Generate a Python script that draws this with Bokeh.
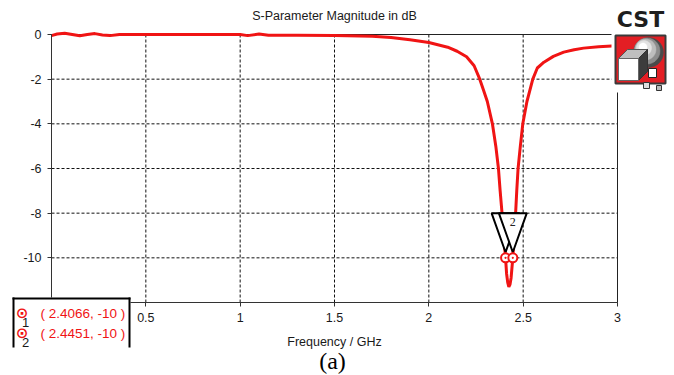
from bokeh.plotting import figure
from bokeh.models import BoxAnnotation, PolyAnnotation, Label, FixedTicker, Range1d
from bokeh.embed import file_html
from bokeh.resources import INLINE
import math

# ---- data ----
freq = [0.00, 0.03, 0.07, 0.11, 0.15, 0.19, 0.23, 0.27, 0.31, 0.36, 0.60, 1.00, 1.04, 1.10,
        1.15, 1.30, 1.50, 1.70, 1.80, 1.90, 2.00, 2.10, 2.15, 2.20, 2.24, 2.27, 2.29, 2.31,
        2.337, 2.355, 2.369, 2.378, 2.388, 2.397, 2.4066, 2.412, 2.418, 2.424, 2.430, 2.436,
        2.4451, 2.452, 2.460, 2.466, 2.473, 2.485, 2.498, 2.520, 2.551, 2.575, 2.610, 2.660,
        2.715, 2.770, 2.820, 2.900, 2.970, 3.000]
s11 = [-0.05, 0.02, 0.06, 0.00, -0.06, 0.00, 0.04, -0.02, -0.05, 0.00, 0.00, 0.00, -0.05, 0.02,
       -0.03, -0.03, -0.04, -0.08, -0.13, -0.24, -0.36, -0.57, -0.75, -1.00, -1.40, -2.00, -2.50, -3.00,
       -4.00, -5.00, -6.00, -7.00, -8.00, -9.00, -10.00, -10.70, -11.10, -11.30, -11.20, -10.90,
       -10.00, -9.00, -8.00, -7.00, -6.00, -5.00, -4.00, -3.00, -2.00, -1.50, -1.24, -0.98,
       -0.79, -0.68, -0.61, -0.55, -0.51, -0.50]
marker_x = [2.4066, 2.4451]
marker_y = [-10.0, -10.0]
marker_ids = ["1", "2"]
x_ticks = [0, 0.5, 1, 1.5, 2, 2.5, 3]
y_ticks = [-12, -10, -8, -6, -4, -2, 0]
x_lo, x_hi = 0.0, 3.0
y_lo, y_hi = -12.0, 0.0

FONT = "Liberation Sans"
RED = "#f01414"
W, H = 674, 375
# where the plotting area sits on the canvas (pixels)
PL, PR, PT, PB = 51.0, 617.0, 34.0, 302.0
sx = (PR - PL) / (x_hi - x_lo)
sy = (PB - PT) / (y_hi - y_lo)

# the frame spans the whole canvas so that decorations outside the plot area are not clipped
p = figure(width=W, height=H,
           x_range=Range1d(x_lo - PL / sx, x_hi + (W - PR) / sx),
           y_range=Range1d(y_lo - (H - PB) / sy, y_hi + PT / sy),
           output_backend="svg", toolbar_location=None, title=None,
           min_border_left=0, min_border_right=0, min_border_top=0, min_border_bottom=0)
p.background_fill_color = "white"
p.border_fill_color = "white"
p.outline_line_color = None
p.grid.visible = False

p.xaxis.fixed_location = y_lo
p.yaxis.fixed_location = x_lo
p.xaxis.bounds = (x_lo, x_hi)
p.yaxis.bounds = (y_lo, y_hi)
for ax in (p.xaxis[0], p.yaxis[0]):
    ax.axis_line_color = "#333333"
    ax.major_tick_line_color = "#333333"
    ax.minor_tick_line_color = None
    ax.major_tick_in = 0
    ax.major_tick_out = 4
    ax.major_label_text_font = FONT
    ax.major_label_text_font_size = "12.5px"
    ax.major_label_text_color = "#1a1a1a"
    ax.major_label_standoff = 6
p.xaxis.ticker = FixedTicker(ticks=x_ticks)
p.yaxis.ticker = FixedTicker(ticks=y_ticks)
p.xaxis.major_label_overrides = {t: ("%g" % t) for t in x_ticks}
p.yaxis.major_label_overrides = {t: ("%g" % t) for t in y_ticks}

# dashed grid inside the plotting area
gx = [t for t in x_ticks if x_lo < t < x_hi]
gy = [t for t in y_ticks if y_lo < t < y_hi]
p.segment(x0=gx, y0=[y_lo] * len(gx), x1=gx, y1=[y_hi] * len(gx),
          line_color="#111111", line_dash="3 2", line_width=1)
p.segment(x0=[x_lo] * len(gy), y0=gy, x1=[x_hi] * len(gy), y1=gy,
          line_color="#111111", line_dash="3 2", line_width=1)
p.quad(left=[x_lo], right=[x_hi], bottom=[y_lo], top=[y_hi], fill_alpha=0,
       line_color="#222222", line_width=1)

p.line(freq, s11, line_color=RED, line_width=3)

hw = 0.074
for mx, my, mid in zip(marker_x, marker_y, marker_ids):
    p.patch([mx - hw, mx + hw, mx], [my + 2.0, my + 2.0, my + 0.25],
            fill_color="white", line_color="black", line_width=2)
    p.text([mx], [my + 1.62], text=[mid], text_font=FONT, text_font_size="12px",
           text_align="center", text_baseline="middle", text_color="#222222")
p.scatter(marker_x, marker_y, marker="circle_dot", size=9, line_color=RED,
          fill_color="white", line_width=2)

def lab(x, y, text, align="center", **kw):
    p.add_layout(Label(x=x, y=y, x_units="canvas", y_units="canvas", text=text,
                       text_align=align, text_baseline="middle", level="overlay", **kw))

def box(l, r, t, b, **kw):
    p.add_layout(BoxAnnotation(left=l, right=r, top=t, bottom=b, left_units="canvas",
                               right_units="canvas", top_units="canvas", bottom_units="canvas",
                               fill_alpha=1.0, level="overlay", **kw))

def poly(xs, ys, **kw):
    p.add_layout(PolyAnnotation(xs=xs, ys=ys, xs_units="canvas", ys_units="canvas",
                                fill_alpha=1.0, line_alpha=1.0, level="overlay", **kw))

lab(334, 15, "S-Parameter Magnitude in dB", text_font=FONT, text_font_size="12.5px", text_color="#1a1a1a")
lab(334, 341, "Frequency / GHz", text_font=FONT, text_font_size="12.5px", text_color="#1a1a1a")
lab(332, 360, "(a)", text_font="Liberation Serif", text_font_size="24px", text_color="black")

# marker read-out box (open at the bottom, as cropped in the original)
box(12, 130, 297, 347, fill_color="white", line_alpha=0)
box(12, 130, 297, 299, fill_color="black", line_alpha=0)
box(12, 14, 297, 347, fill_color="black", line_alpha=0)
box(128, 130, 297, 347, fill_color="black", line_alpha=0)
for i, (mx, my, mid) in enumerate(zip(marker_x, marker_y, marker_ids)):
    yc = 312.5 + 20.5 * i
    lab(21.5, yc - 0.5, "\u2299", text_font="DejaVu Sans", text_font_size="15px",
        text_font_style="bold", text_color=RED)
    lab(25, yc + 9, mid, text_font=FONT, text_font_size="13px", text_color="#1a1a1a")
    lab(40, yc, "( %.4f, %d )" % (mx, my), align="left", text_font=FONT,
        text_font_size="13.5px", text_color=RED)

# CST logo
box(611, 674, 0, 92, fill_color="white", line_alpha=0)
lab(640, 19, "CST", text_font="DejaVu Sans", text_font_size="22px", text_font_style="bold",
    text_color="#1e1e1e")
box(615, 665, 35, 83, fill_color="#e31e24", line_color="#3a3a3a", line_alpha=1.0, line_width=2)
cx, cy = 648, 52
for rr, off, col in [(15, 0, "#4a4a4a"), (13, -1.5, "#8c8c8c"), (10.5, -3, "#bdbdbd"),
                     (7.5, -4.5, "#e2e2e2"), (4, -5.5, "#ffffff")]:
    poly([cx + off + rr * math.cos(t / 28 * 2 * math.pi) for t in range(28)],
         [cy + off + rr * math.sin(t / 28 * 2 * math.pi) for t in range(28)],
         fill_color=col, line_color=col, line_width=0.5)
poly([618, 627, 647, 638], [58, 49, 49, 58], fill_color="#bfbfbf", line_color="#555555", line_width=1)
poly([638, 647, 647, 638], [58, 49, 71, 80], fill_color="#3c3c3c", line_color="#333333", line_width=1)
poly([618, 638, 638, 618], [58, 58, 80, 80], fill_color="white", line_color="#666666", line_width=1)
poly([648, 656, 656, 648], [68, 68, 77, 77], fill_color="white", line_color="#222222", line_width=1)
poly([643, 649, 649, 643], [82, 82, 88, 88], fill_color="#dddddd", line_color="#333333", line_width=1)
poly([656, 661, 661, 656], [85, 85, 90, 90], fill_color="#bbbbbb", line_color="#333333", line_width=1)

open("out.html", "w").write(file_html(p, INLINE))
